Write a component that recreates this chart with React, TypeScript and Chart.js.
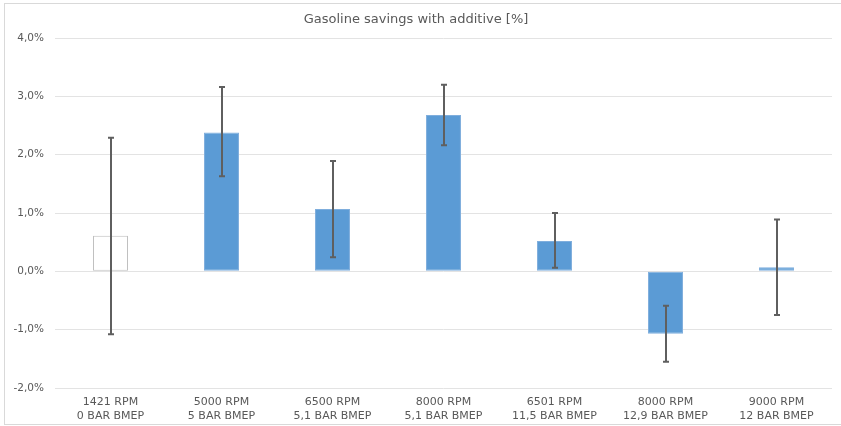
import React, { useEffect, useRef } from "react";
import { Chart, registerables } from "chart.js";

Chart.register(...registerables);

const categories: string[][] = [
  ["1421 RPM", "0 BAR BMEP"],
  ["5000 RPM", "5 BAR BMEP"],
  ["6500 RPM", "5,1 BAR BMEP"],
  ["8000 RPM", "5,1 BAR BMEP"],
  ["6501 RPM", "11,5 BAR BMEP"],
  ["8000 RPM", "12,9 BAR BMEP"],
  ["9000 RPM", "12 BAR BMEP"],
];

const savings: number[] = [0.61, 2.38, 1.07, 2.68, 0.52, -1.07, 0.07];
const errorHigh: number[] = [2.29, 3.16, 1.89, 3.2, 1.0, -0.59, 0.89];
const errorLow: number[] = [-1.08, 1.63, 0.24, 2.16, 0.06, -1.55, -0.75];

const yTicks: number[] = [-2, -1, 0, 1, 2, 3, 4];

const titleText = "Gasoline savings with additive [%]";

const BLUE = "#5B9BD5";
const TEXT = "#595959";
const FONT = "'DejaVu Sans', sans-serif";

const errorBarPlugin = {
  id: "errorBars",
  afterDatasetsDraw(chart: any) {
    const ctx = chart.ctx;
    const ys = chart.scales.y;
    const meta = chart.getDatasetMeta(0);
    ctx.save();
    ctx.strokeStyle = "#5f5f5f";
    ctx.lineWidth = 2;
    meta.data.forEach((bar: any, i: number) => {
      const x = Math.round(bar.x);
      const yHi = ys.getPixelForValue(errorHigh[i]);
      const yLo = ys.getPixelForValue(errorLow[i]);
      ctx.beginPath();
      ctx.moveTo(x, yHi);
      ctx.lineTo(x, yLo);
      ctx.moveTo(x - 3, yHi);
      ctx.lineTo(x + 3, yHi);
      ctx.moveTo(x - 3, yLo);
      ctx.lineTo(x + 3, yLo);
      ctx.stroke();
    });
    ctx.restore();
  },
};

export default function App() {
  const canvasRef = useRef<HTMLCanvasElement | null>(null);

  useEffect(() => {
    if (!canvasRef.current) return;
    const chart = new Chart(canvasRef.current, {
      type: "bar",
      data: {
        labels: categories,
        datasets: [
          {
            data: savings,
            backgroundColor: savings.map((_, i) => (i === 0 ? "#FFFFFF" : BLUE)),
            borderColor: savings.map((_, i) => (i === 0 ? "#BFBFBF" : "#7FAEDD")),
            borderWidth: 1,
            borderSkipped: false,
            categoryPercentage: 1,
            barPercentage: 0.315,
          },
        ],
      },
      options: {
        animation: false,
        responsive: false,
        maintainAspectRatio: false,
        layout: { padding: { left: 0, right: 9, top: 0, bottom: 0 } },
        plugins: {
          legend: { display: false },
          tooltip: { enabled: false },
          title: {
            display: true,
            text: titleText,
            color: TEXT,
            font: { family: FONT, size: 13, weight: "normal", lineHeight: 1.2 },
            padding: { top: 11.5, bottom: 10.9 },
          },
        },
        scales: {
          x: {
            grid: { display: false, drawTicks: false },
            border: { display: false },
            ticks: {
              color: TEXT,
              font: { family: FONT, size: 11, lineHeight: 1.2 },
              padding: 8,
              maxRotation: 0,
              autoSkip: false,
            },
            afterFit(scale: any) {
              scale.height = 38;
            },
          },
          y: {
            min: -2,
            max: 4,
            afterBuildTicks(scale: any) {
              scale.ticks = yTicks.map((v) => ({ value: v }));
            },
            grid: { color: "#E3E3E3", lineWidth: 1, drawTicks: false },
            border: { display: false },
            ticks: {
              color: TEXT,
              font: { family: FONT, size: 10.5 },
              padding: 11,
              callback: (v: any) => Number(v).toFixed(1).replace(".", ",") + "%",
            },
            afterFit(scale: any) {
              scale.width = 55;
            },
          },
        },
      },
      plugins: [errorBarPlugin],
    });
    return () => chart.destroy();
  }, []);

  return (
    <div style={{ position: "fixed", left: 0, top: 0, width: 841, height: 426, background: "#fff" }}>
      <canvas ref={canvasRef} width={841} height={426} style={{ display: "block", width: 841, height: 426 }} />
      <div
        style={{
          position: "absolute",
          left: 4,
          top: 3,
          width: 845,
          height: 420,
          border: "1px solid #D9D9D9",
          pointerEvents: "none",
        }}
      />
    </div>
  );
}
